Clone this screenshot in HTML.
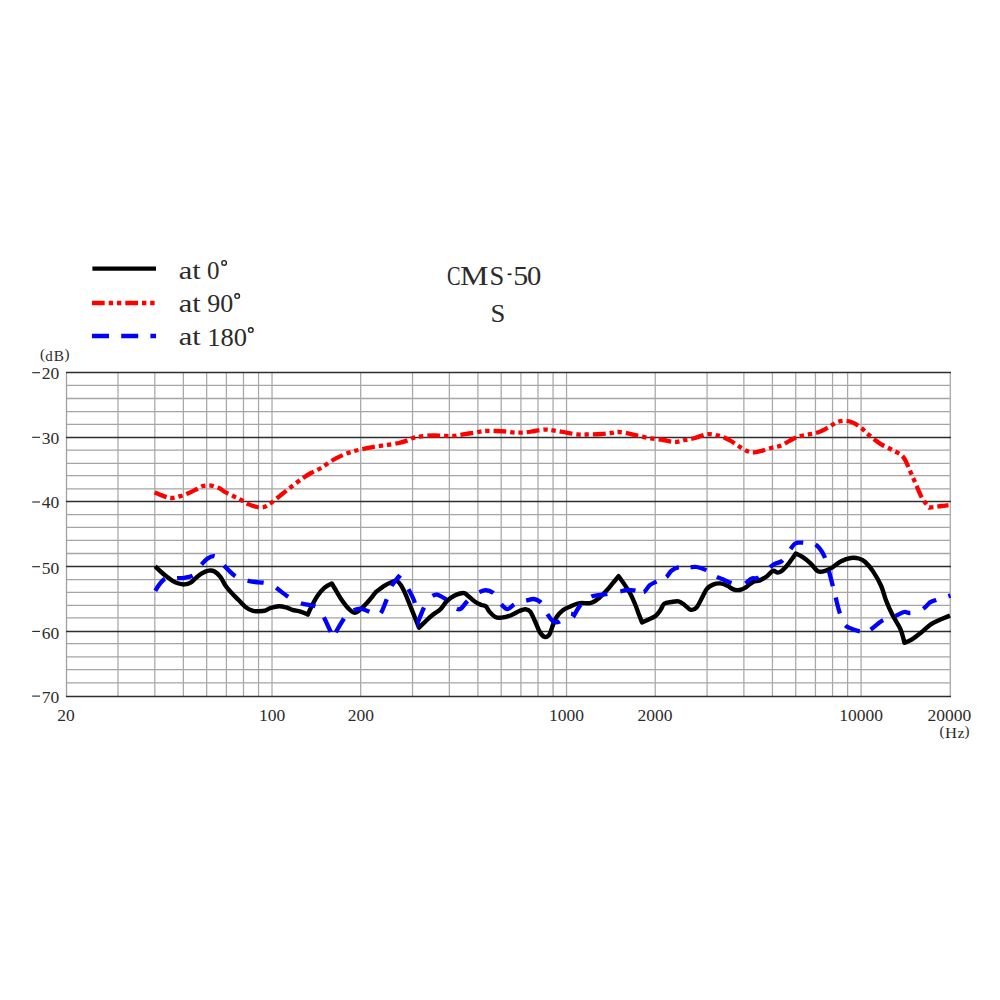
<!DOCTYPE html>
<html><head><meta charset="utf-8"><style>
html,body{margin:0;padding:0;background:#fff;width:1000px;height:1000px;overflow:hidden}
svg{display:block}
text{font-family:"Liberation Serif",serif;fill:#2b2b2b}
</style></head><body>
<svg width="1000" height="1000" viewBox="0 0 1000 1000">
<rect width="1000" height="1000" fill="#fff"/>
<line x1="66.5" y1="385.4" x2="950.2" y2="385.4" stroke="#a5a5a5" stroke-width="1.3"/>
<line x1="66.5" y1="398.5" x2="950.2" y2="398.5" stroke="#a5a5a5" stroke-width="1.3"/>
<line x1="66.5" y1="411.55" x2="950.2" y2="411.55" stroke="#a5a5a5" stroke-width="1.3"/>
<line x1="66.5" y1="424.45" x2="950.2" y2="424.45" stroke="#a5a5a5" stroke-width="1.3"/>
<line x1="66.5" y1="450.1" x2="950.2" y2="450.1" stroke="#a5a5a5" stroke-width="1.3"/>
<line x1="66.5" y1="463.3" x2="950.2" y2="463.3" stroke="#a5a5a5" stroke-width="1.3"/>
<line x1="66.5" y1="475.6" x2="950.2" y2="475.6" stroke="#a5a5a5" stroke-width="1.3"/>
<line x1="66.5" y1="488.85" x2="950.2" y2="488.85" stroke="#a5a5a5" stroke-width="1.3"/>
<line x1="66.5" y1="514.65" x2="950.2" y2="514.65" stroke="#a5a5a5" stroke-width="1.3"/>
<line x1="66.5" y1="527.35" x2="950.2" y2="527.35" stroke="#a5a5a5" stroke-width="1.3"/>
<line x1="66.5" y1="540.45" x2="950.2" y2="540.45" stroke="#a5a5a5" stroke-width="1.3"/>
<line x1="66.5" y1="553.5" x2="950.2" y2="553.5" stroke="#a5a5a5" stroke-width="1.3"/>
<line x1="66.5" y1="579.65" x2="950.2" y2="579.65" stroke="#a5a5a5" stroke-width="1.3"/>
<line x1="66.5" y1="592.35" x2="950.2" y2="592.35" stroke="#a5a5a5" stroke-width="1.3"/>
<line x1="66.5" y1="605.45" x2="950.2" y2="605.45" stroke="#a5a5a5" stroke-width="1.3"/>
<line x1="66.5" y1="617.85" x2="950.2" y2="617.85" stroke="#a5a5a5" stroke-width="1.3"/>
<line x1="66.5" y1="643.7" x2="950.2" y2="643.7" stroke="#a5a5a5" stroke-width="1.3"/>
<line x1="66.5" y1="656.9" x2="950.2" y2="656.9" stroke="#a5a5a5" stroke-width="1.3"/>
<line x1="66.5" y1="669.55" x2="950.2" y2="669.55" stroke="#a5a5a5" stroke-width="1.3"/>
<line x1="66.5" y1="682.8" x2="950.2" y2="682.8" stroke="#a5a5a5" stroke-width="1.3"/>
<line x1="118.01" y1="372.5" x2="118.01" y2="696.5" stroke="#a8a8a8" stroke-width="1.25"/>
<line x1="154.81" y1="372.5" x2="154.81" y2="696.5" stroke="#a8a8a8" stroke-width="1.25"/>
<line x1="183.36" y1="372.5" x2="183.36" y2="696.5" stroke="#a8a8a8" stroke-width="1.25"/>
<line x1="206.68" y1="372.5" x2="206.68" y2="696.5" stroke="#a8a8a8" stroke-width="1.25"/>
<line x1="226.40" y1="372.5" x2="226.40" y2="696.5" stroke="#a8a8a8" stroke-width="1.25"/>
<line x1="243.48" y1="372.5" x2="243.48" y2="696.5" stroke="#a8a8a8" stroke-width="1.25"/>
<line x1="258.54" y1="372.5" x2="258.54" y2="696.5" stroke="#a8a8a8" stroke-width="1.25"/>
<line x1="272.02" y1="372.5" x2="272.02" y2="696.5" stroke="#a8a8a8" stroke-width="1.25"/>
<line x1="360.68" y1="372.5" x2="360.68" y2="696.5" stroke="#a8a8a8" stroke-width="1.25"/>
<line x1="412.55" y1="372.5" x2="412.55" y2="696.5" stroke="#a8a8a8" stroke-width="1.25"/>
<line x1="449.35" y1="372.5" x2="449.35" y2="696.5" stroke="#a8a8a8" stroke-width="1.25"/>
<line x1="477.89" y1="372.5" x2="477.89" y2="696.5" stroke="#a8a8a8" stroke-width="1.25"/>
<line x1="501.21" y1="372.5" x2="501.21" y2="696.5" stroke="#a8a8a8" stroke-width="1.25"/>
<line x1="520.93" y1="372.5" x2="520.93" y2="696.5" stroke="#a8a8a8" stroke-width="1.25"/>
<line x1="538.01" y1="372.5" x2="538.01" y2="696.5" stroke="#a8a8a8" stroke-width="1.25"/>
<line x1="553.08" y1="372.5" x2="553.08" y2="696.5" stroke="#a8a8a8" stroke-width="1.25"/>
<line x1="566.55" y1="372.5" x2="566.55" y2="696.5" stroke="#a8a8a8" stroke-width="1.25"/>
<line x1="655.22" y1="372.5" x2="655.22" y2="696.5" stroke="#a8a8a8" stroke-width="1.25"/>
<line x1="707.08" y1="372.5" x2="707.08" y2="696.5" stroke="#a8a8a8" stroke-width="1.25"/>
<line x1="743.88" y1="372.5" x2="743.88" y2="696.5" stroke="#a8a8a8" stroke-width="1.25"/>
<line x1="772.42" y1="372.5" x2="772.42" y2="696.5" stroke="#a8a8a8" stroke-width="1.25"/>
<line x1="795.74" y1="372.5" x2="795.74" y2="696.5" stroke="#a8a8a8" stroke-width="1.25"/>
<line x1="815.46" y1="372.5" x2="815.46" y2="696.5" stroke="#a8a8a8" stroke-width="1.25"/>
<line x1="832.54" y1="372.5" x2="832.54" y2="696.5" stroke="#a8a8a8" stroke-width="1.25"/>
<line x1="847.61" y1="372.5" x2="847.61" y2="696.5" stroke="#a8a8a8" stroke-width="1.25"/>
<line x1="861.09" y1="372.5" x2="861.09" y2="696.5" stroke="#a8a8a8" stroke-width="1.25"/>
<line x1="950.3" y1="372.5" x2="950.3" y2="696.5" stroke="#b0b0b0" stroke-width="1.5"/>
<line x1="66.5" y1="372.5" x2="66.5" y2="696.5" stroke="#a0a0a0" stroke-width="1.3"/>
<line x1="66" y1="372.5" x2="951" y2="372.5" stroke="#2e2e2e" stroke-width="1.6"/>
<line x1="66" y1="437.5" x2="951" y2="437.5" stroke="#2e2e2e" stroke-width="1.6"/>
<line x1="66" y1="501.5" x2="951" y2="501.5" stroke="#2e2e2e" stroke-width="1.6"/>
<line x1="66" y1="566.5" x2="951" y2="566.5" stroke="#2e2e2e" stroke-width="1.6"/>
<line x1="66" y1="631.5" x2="951" y2="631.5" stroke="#2e2e2e" stroke-width="1.6"/>
<line x1="66" y1="696.5" x2="951" y2="696.5" stroke="#2e2e2e" stroke-width="1.6"/>
<g font-size="17.5">
<text x="59.2" y="379" text-anchor="end">20</text>
<text x="59.2" y="443.8" text-anchor="end">30</text>
<text x="59.2" y="508.4" text-anchor="end">40</text>
<text x="59.2" y="574" text-anchor="end">50</text>
<text x="59.2" y="638.7" text-anchor="end">60</text>
<text x="59.2" y="703.3" text-anchor="end">70</text>
</g>
<g stroke="#222" stroke-width="1.1">
<line x1="32.2" y1="372.7" x2="40" y2="372.7"/>
<line x1="32.2" y1="437.3" x2="40" y2="437.3"/>
<line x1="32.2" y1="502" x2="40" y2="502"/>
<line x1="32.2" y1="566.7" x2="40" y2="566.7"/>
<line x1="32.2" y1="631.4" x2="40" y2="631.4"/>
<line x1="32.2" y1="696.1" x2="40" y2="696.1"/>
</g>
<g font-size="15">
<text x="40" y="359">(</text>
<text x="45.3" y="360.7">d</text>
<text x="53.8" y="360.7" textLength="10.2" lengthAdjust="spacingAndGlyphs">B</text>
<text x="64.6" y="359">)</text>
</g>
<g font-size="17.5" text-anchor="middle">
<text x="66" y="721">20</text>
<text x="272.2" y="721">100</text>
<text x="360.8" y="721">200</text>
<text x="566.5" y="721">1000</text>
<text x="655.1" y="721">2000</text>
<text x="861.1" y="721">10000</text>
<text x="949.3" y="721">20000</text>
</g>
<g font-size="15">
<text x="939.6" y="736">(</text>
<text x="945" y="737.8" textLength="12" lengthAdjust="spacingAndGlyphs">H</text>
<text x="957.6" y="737.8" textLength="7" lengthAdjust="spacingAndGlyphs">z</text>
<text x="964.6" y="736">)</text>
</g>
<g font-size="26.5">
<text x="447" y="284.7" textLength="13.6" lengthAdjust="spacingAndGlyphs">C</text>
<text x="460" y="284.7" textLength="28.5" lengthAdjust="spacingAndGlyphs">M</text>
<text x="489.5" y="284.7">S</text>
<rect x="507.7" y="273.5" width="3.8" height="1.6" fill="#111"/>
<text x="513.2" y="284.7" textLength="15" lengthAdjust="spacingAndGlyphs">5</text>
<text x="527" y="284.7" textLength="14.3" lengthAdjust="spacingAndGlyphs">0</text>
</g>
<text x="490.6" y="321.6" font-size="25" textLength="14.8" lengthAdjust="spacingAndGlyphs">S</text>
<line x1="92.4" y1="268.6" x2="156" y2="268.6" stroke="#000" stroke-width="4.4"/>
<line x1="92" y1="303" x2="156" y2="303" stroke="#f00" stroke-width="4.3" stroke-dasharray="12.7 4 4.4 3.8 4.4 4"/>
<line x1="92" y1="336" x2="156" y2="336" stroke="#00f" stroke-width="4.3" stroke-dasharray="17 12.2"/>
<g font-size="25">
<text x="178.7" y="278.7" textLength="22" lengthAdjust="spacingAndGlyphs">at</text>
<text x="207.1" y="278.7">0</text>
<text x="178.7" y="311.6" textLength="22" lengthAdjust="spacingAndGlyphs">at</text>
<text x="207.3" y="311.8" font-size="24.5" textLength="26" lengthAdjust="spacingAndGlyphs">90</text>
<text x="178.7" y="345.4" textLength="22" lengthAdjust="spacingAndGlyphs">at</text>
<text x="207.2" y="345.8" font-size="24.5" textLength="39.8" lengthAdjust="spacingAndGlyphs">180</text>
</g>
<g fill="none" stroke="#222" stroke-width="1.4">
<circle cx="224.1" cy="262.9" r="2.3"/>
<circle cx="237.2" cy="296.1" r="2.3"/>
<circle cx="250.8" cy="330.1" r="2.3"/>
</g>
<path d="M155.20,566.40 C156.10,567.25 158.70,569.80 160.60,571.50 C162.50,573.20 164.60,575.05 166.60,576.60 C168.60,578.15 170.60,579.65 172.60,580.80 C174.60,581.95 176.60,582.90 178.60,583.50 C180.60,584.10 182.60,584.55 184.60,584.40 C186.60,584.25 188.80,583.60 190.60,582.60 C192.40,581.60 193.60,579.90 195.40,578.40 C197.20,576.90 199.20,574.90 201.40,573.60 C203.60,572.30 206.40,570.95 208.60,570.60 C210.80,570.25 212.60,570.40 214.60,571.50 C216.60,572.60 218.80,574.85 220.60,577.20 C222.40,579.55 223.60,583.00 225.40,585.60 C227.20,588.20 229.20,590.40 231.40,592.80 C233.60,595.20 236.20,597.60 238.60,600.00 C241.00,602.40 243.40,605.40 245.80,607.20 C248.20,609.00 250.80,610.13 253.00,610.80 C255.20,611.47 257.00,611.23 259.00,611.20 C261.00,611.17 263.07,611.13 265.00,610.60 C266.93,610.07 268.27,608.73 270.60,608.00 C272.93,607.27 276.40,606.30 279.00,606.20 C281.60,606.10 284.00,606.80 286.20,607.40 C288.40,608.00 289.80,609.10 292.20,609.80 C294.60,610.50 298.00,610.80 300.60,611.60 C303.20,612.40 307.80,614.60 307.80,614.60 C307.80,614.60 309.80,609.90 311.40,606.80 C313.00,603.70 315.20,599.20 317.40,596.00 C319.60,592.80 322.20,589.70 324.60,587.60 C327.00,585.50 331.80,583.40 331.80,583.40 C331.80,583.40 333.80,586.83 335.40,589.50 C337.00,592.17 339.20,596.22 341.40,599.40 C343.60,602.58 346.40,606.37 348.60,608.60 C350.80,610.83 352.60,612.70 354.60,612.80 C356.60,612.90 358.40,611.00 360.60,609.20 C362.80,607.40 365.40,604.67 367.80,602.00 C370.20,599.33 373.47,595.00 375.00,593.20 C376.53,591.40 375.47,592.43 377.00,591.20 C378.53,589.97 381.80,587.30 384.20,585.80 C386.60,584.30 389.30,583.00 391.40,582.20 C393.50,581.40 395.20,580.50 396.80,581.00 C398.40,581.50 399.50,582.90 401.00,585.20 C402.50,587.50 404.20,591.20 405.80,594.80 C407.40,598.40 409.00,602.80 410.60,606.80 C412.20,610.80 414.00,615.33 415.40,618.80 C416.80,622.27 419.00,627.60 419.00,627.60 C419.00,627.60 422.80,623.87 425.00,621.80 C427.20,619.73 429.60,617.30 432.20,615.20 C434.80,613.10 438.20,611.50 440.60,609.20 C443.00,606.90 444.40,603.60 446.60,601.40 C448.80,599.20 451.00,597.40 453.80,596.00 C456.60,594.60 461.00,593.00 463.40,593.00 C465.80,593.00 466.20,594.50 468.20,596.00 C470.20,597.50 473.20,600.50 475.40,602.00 C477.60,603.50 479.67,604.30 481.40,605.00 C483.13,605.70 484.47,605.10 485.80,606.20 C487.13,607.30 487.80,609.80 489.40,611.60 C491.00,613.40 493.40,616.00 495.40,617.00 C497.40,618.00 498.80,617.90 501.40,617.60 C504.00,617.30 508.00,616.30 511.00,615.20 C514.00,614.10 517.00,612.00 519.40,611.00 C521.80,610.00 523.60,609.10 525.40,609.20 C527.20,609.30 528.60,609.60 530.20,611.60 C531.80,613.60 533.40,617.80 535.00,621.20 C536.60,624.60 538.20,629.40 539.80,632.00 C541.40,634.60 543.00,636.40 544.60,636.80 C546.20,637.20 548.00,636.40 549.40,634.40 C550.80,632.40 551.80,627.70 553.00,624.80 C554.20,621.90 555.00,619.40 556.60,617.00 C558.20,614.60 560.20,612.20 562.60,610.40 C565.00,608.60 568.20,607.40 571.00,606.20 C573.80,605.00 576.60,603.70 579.40,603.20 C582.20,602.70 585.67,603.30 587.80,603.20 C589.93,603.10 590.27,603.50 592.20,602.60 C594.13,601.70 597.00,599.80 599.40,597.80 C601.80,595.80 604.40,593.00 606.60,590.60 C608.80,588.20 610.60,585.80 612.60,583.40 C614.60,581.00 618.60,576.20 618.60,576.20 C618.60,576.20 622.60,581.60 624.60,584.60 C626.60,587.60 628.80,590.80 630.60,594.20 C632.40,597.60 634.00,601.60 635.40,605.00 C636.80,608.40 637.90,611.70 639.00,614.60 C640.10,617.50 642.00,622.40 642.00,622.40 C642.00,622.40 646.30,620.50 648.60,619.40 C650.90,618.30 653.80,617.40 655.80,615.80 C657.80,614.20 659.20,611.80 660.60,609.80 C662.00,607.80 662.40,605.10 664.20,603.80 C666.00,602.50 669.00,602.40 671.40,602.00 C673.80,601.60 676.40,600.90 678.60,601.40 C680.80,601.90 682.60,603.60 684.60,605.00 C686.60,606.40 688.60,609.40 690.60,609.80 C692.60,610.20 694.60,609.60 696.60,607.40 C698.60,605.20 700.87,599.70 702.60,596.60 C704.33,593.50 705.27,590.80 707.00,588.80 C708.73,586.80 710.80,585.50 713.00,584.60 C715.20,583.70 717.80,583.20 720.20,583.40 C722.60,583.60 725.20,584.80 727.40,585.80 C729.60,586.80 731.40,588.70 733.40,589.40 C735.40,590.10 737.40,590.30 739.40,590.00 C741.40,589.70 743.20,588.90 745.40,587.60 C747.60,586.30 750.20,583.40 752.60,582.20 C755.00,581.00 757.40,581.40 759.80,580.40 C762.20,579.40 764.80,577.80 767.00,576.20 C769.20,574.60 771.20,571.40 773.00,570.80 C774.80,570.20 776.20,572.70 777.80,572.60 C779.40,572.50 780.80,571.70 782.60,570.20 C784.40,568.70 786.40,566.37 788.60,563.60 C790.80,560.83 795.80,553.60 795.80,553.60 C795.80,553.60 800.30,555.53 802.80,557.20 C805.30,558.87 808.27,561.25 810.80,563.60 C813.33,565.95 815.60,570.10 818.00,571.30 C820.40,572.50 822.67,571.55 825.20,570.80 C827.73,570.05 830.53,568.40 833.20,566.80 C835.87,565.20 838.27,562.67 841.20,561.20 C844.13,559.73 847.87,558.45 850.80,558.00 C853.73,557.55 856.40,557.83 858.80,558.50 C861.20,559.17 862.80,559.82 865.20,562.00 C867.60,564.18 870.53,567.60 873.20,571.60 C875.87,575.60 879.07,581.20 881.20,586.00 C883.33,590.80 884.13,595.60 886.00,600.40 C887.87,605.20 890.00,610.00 892.40,614.80 C894.80,619.60 898.40,624.53 900.40,629.20 C902.40,633.87 904.40,642.80 904.40,642.80 C904.40,642.80 908.80,641.33 911.60,639.60 C914.40,637.87 918.00,634.93 921.20,632.40 C924.40,629.87 927.60,626.53 930.80,624.40 C934.00,622.27 937.20,621.07 940.40,619.60 C943.60,618.13 948.40,616.27 950.00,615.60" fill="none" stroke="#000" stroke-width="4.4" stroke-linejoin="round"/>
<path d="M154.60,492.40 C156.33,493.10 162.10,495.67 165.00,496.60 C167.90,497.53 169.33,498.10 172.00,498.00 C174.67,497.90 178.17,496.83 181.00,496.00 C183.83,495.17 186.33,494.17 189.00,493.00 C191.67,491.83 194.67,490.17 197.00,489.00 C199.33,487.83 200.67,486.57 203.00,486.00 C205.33,485.43 208.33,485.27 211.00,485.60 C213.67,485.93 216.67,486.93 219.00,488.00 C221.33,489.07 222.67,490.67 225.00,492.00 C227.33,493.33 230.33,494.67 233.00,496.00 C235.67,497.33 238.33,498.60 241.00,500.00 C243.67,501.40 246.33,503.23 249.00,504.40 C251.67,505.57 254.50,506.57 257.00,507.00 C259.50,507.43 261.67,507.67 264.00,507.00 C266.33,506.33 268.17,505.00 271.00,503.00 C273.83,501.00 277.67,497.67 281.00,495.00 C284.33,492.33 287.33,489.83 291.00,487.00 C294.67,484.17 299.67,480.33 303.00,478.00 C306.33,475.67 308.00,474.67 311.00,473.00 C314.00,471.33 317.33,470.17 321.00,468.00 C324.67,465.83 329.33,462.17 333.00,460.00 C336.67,457.83 339.67,456.43 343.00,455.00 C346.33,453.57 349.67,452.40 353.00,451.40 C356.33,450.40 359.33,449.80 363.00,449.00 C366.67,448.20 371.00,447.27 375.00,446.60 C379.00,445.93 383.00,445.60 387.00,445.00 C391.00,444.40 395.67,443.73 399.00,443.00 C402.33,442.27 404.67,441.43 407.00,440.60 C409.33,439.77 410.67,438.70 413.00,438.00 C415.33,437.30 417.67,436.83 421.00,436.40 C424.33,435.97 429.33,435.50 433.00,435.40 C436.67,435.30 439.67,435.70 443.00,435.80 C446.33,435.90 449.67,436.23 453.00,436.00 C456.33,435.77 459.33,434.97 463.00,434.40 C466.67,433.83 471.33,433.17 475.00,432.60 C478.67,432.03 481.67,431.27 485.00,431.00 C488.33,430.73 491.67,430.93 495.00,431.00 C498.33,431.07 501.67,431.13 505.00,431.40 C508.33,431.67 511.67,432.43 515.00,432.60 C518.33,432.77 521.67,432.67 525.00,432.40 C528.33,432.13 531.67,431.47 535.00,431.00 C538.33,430.53 542.00,429.70 545.00,429.60 C548.00,429.50 550.00,430.00 553.00,430.40 C556.00,430.80 559.00,431.33 563.00,432.00 C567.00,432.67 572.67,434.00 577.00,434.40 C581.33,434.80 585.00,434.47 589.00,434.40 C593.00,434.33 597.33,434.23 601.00,434.00 C604.67,433.77 608.00,433.33 611.00,433.00 C614.00,432.67 616.00,431.90 619.00,432.00 C622.00,432.10 625.67,432.93 629.00,433.60 C632.33,434.27 635.33,435.20 639.00,436.00 C642.67,436.80 647.00,437.73 651.00,438.40 C655.00,439.07 659.00,439.40 663.00,440.00 C667.00,440.60 671.33,442.00 675.00,442.00 C678.67,442.00 681.67,440.67 685.00,440.00 C688.33,439.33 691.33,438.97 695.00,438.00 C698.67,437.03 703.33,434.63 707.00,434.20 C710.67,433.77 714.33,434.93 717.00,435.40 C719.67,435.87 720.67,436.07 723.00,437.00 C725.33,437.93 728.33,439.43 731.00,441.00 C733.67,442.57 736.33,444.73 739.00,446.40 C741.67,448.07 744.67,450.00 747.00,451.00 C749.33,452.00 750.67,452.40 753.00,452.40 C755.33,452.40 758.00,451.73 761.00,451.00 C764.00,450.27 767.67,448.90 771.00,448.00 C774.33,447.10 777.67,446.93 781.00,445.60 C784.33,444.27 788.00,441.53 791.00,440.00 C794.00,438.47 796.00,437.33 799.00,436.40 C802.00,435.47 805.67,435.13 809.00,434.40 C812.33,433.67 815.67,433.23 819.00,432.00 C822.33,430.77 826.00,428.63 829.00,427.00 C832.00,425.37 834.33,423.23 837.00,422.20 C839.67,421.17 842.33,420.73 845.00,420.80 C847.67,420.87 850.33,421.45 853.00,422.60 C855.67,423.75 858.57,425.83 861.00,427.70 C863.43,429.57 865.40,431.87 867.60,433.80 C869.80,435.73 872.00,437.57 874.20,439.30 C876.40,441.03 878.60,442.83 880.80,444.20 C883.00,445.57 885.02,446.30 887.40,447.50 C889.78,448.70 892.72,450.12 895.10,451.40 C897.48,452.68 899.95,453.65 901.70,455.20 C903.45,456.75 904.32,458.32 905.60,460.70 C906.88,463.08 908.12,466.57 909.40,469.50 C910.68,472.43 912.02,475.37 913.30,478.30 C914.58,481.23 915.73,483.98 917.10,487.10 C918.47,490.22 920.03,494.25 921.50,497.00 C922.97,499.75 924.62,501.85 925.90,503.60 C927.18,505.35 929.20,507.50 929.20,507.50 C929.20,507.50 933.78,507.15 935.80,506.90 C937.82,506.65 939.18,506.28 941.30,506.00 C943.42,505.72 947.30,505.33 948.50,505.20" fill="none" stroke="#f00" stroke-width="4.3" stroke-dasharray="12.7 4 4.4 3.8 4.4 4"/>
<path d="M155.20,591.00 C155.90,589.90 157.80,586.40 159.40,584.40 C161.00,582.40 162.87,579.98 164.80,579.00 C166.73,578.02 168.90,578.63 171.00,578.50 C173.10,578.37 175.13,578.32 177.40,578.20 C179.67,578.08 182.00,578.27 184.60,577.80 C187.20,577.33 190.93,576.70 193.00,575.40 C195.07,574.10 195.60,571.80 197.00,570.00 C198.40,568.20 199.67,566.50 201.40,564.60 C203.13,562.70 205.30,560.00 207.40,558.60 C209.50,557.20 212.07,555.97 214.00,556.20 C215.93,556.43 217.30,558.40 219.00,560.00 C220.70,561.60 222.53,564.03 224.20,565.80 C225.87,567.57 227.20,568.90 229.00,570.60 C230.80,572.30 233.00,574.60 235.00,576.00 C237.00,577.40 238.80,578.20 241.00,579.00 C243.20,579.80 245.80,580.30 248.20,580.80 C250.60,581.30 252.87,581.70 255.40,582.00 C257.93,582.30 260.97,582.27 263.40,582.60 C265.83,582.93 267.90,583.17 270.00,584.00 C272.10,584.83 273.00,585.50 276.00,587.60 C279.00,589.70 283.90,594.00 288.00,596.60 C292.10,599.20 296.10,601.60 300.60,603.20 C305.10,604.80 311.93,605.07 315.00,606.20 C318.07,607.33 317.50,608.13 319.00,610.00 C320.50,611.87 321.67,612.90 324.00,617.40 C326.33,621.90 333.00,637.00 333.00,637.00 C333.00,637.00 341.30,622.63 343.80,618.80 C346.30,614.97 346.40,615.40 348.00,614.00 C349.60,612.60 351.30,611.30 353.40,610.40 C355.50,609.50 358.00,608.40 360.60,608.60 C363.20,608.80 366.60,610.70 369.00,611.60 C371.40,612.50 373.07,613.70 375.00,614.00 C376.93,614.30 378.67,615.80 380.60,613.40 C382.53,611.00 384.80,604.10 386.60,599.60 C388.40,595.10 389.40,590.20 391.40,586.40 C393.40,582.60 398.60,576.80 398.60,576.80 C398.60,576.80 401.40,579.00 403.00,581.00 C404.60,583.00 406.23,585.20 408.20,588.80 C410.17,592.40 413.10,597.23 414.80,602.60 C416.50,607.97 418.40,621.00 418.40,621.00 C418.40,621.00 422.20,611.33 423.80,608.00 C425.40,604.67 426.70,602.92 428.00,601.00 C429.30,599.08 430.18,597.57 431.60,596.50 C433.02,595.43 434.93,594.63 436.50,594.60 C438.07,594.57 439.42,595.53 441.00,596.30 C442.58,597.07 444.33,597.92 446.00,599.20 C447.67,600.48 449.30,602.43 451.00,604.00 C452.70,605.57 454.53,607.83 456.20,608.60 C457.87,609.37 459.20,609.80 461.00,608.60 C462.80,607.40 465.00,603.50 467.00,601.40 C469.00,599.30 471.00,597.52 473.00,596.00 C475.00,594.48 476.87,593.28 479.00,592.30 C481.13,591.32 483.47,590.02 485.80,590.10 C488.13,590.18 491.13,591.48 493.00,592.80 C494.87,594.12 495.70,596.17 497.00,598.00 C498.30,599.83 499.07,601.93 500.80,603.80 C502.53,605.67 505.30,609.00 507.40,609.20 C509.50,609.40 511.47,606.20 513.40,605.00 C515.33,603.80 517.00,602.70 519.00,602.00 C521.00,601.30 522.93,601.30 525.40,600.80 C527.87,600.30 531.30,598.80 533.80,599.00 C536.30,599.20 538.70,600.67 540.40,602.00 C542.10,603.33 542.90,605.10 544.00,607.00 C545.10,608.90 545.50,611.03 547.00,613.40 C548.50,615.77 551.00,619.80 553.00,621.20 C555.00,622.60 557.00,622.58 559.00,621.80 C561.00,621.02 563.08,617.87 565.00,616.50 C566.92,615.13 568.97,613.82 570.50,613.60 C572.03,613.38 574.20,615.20 574.20,615.20 C574.20,615.20 578.03,608.13 580.00,605.60 C581.97,603.07 584.10,601.50 586.00,600.00 C587.90,598.50 589.57,597.37 591.40,596.60 C593.23,595.83 594.57,595.80 597.00,595.40 C599.43,595.00 603.50,594.60 606.00,594.20 C608.50,593.80 609.80,593.40 612.00,593.00 C614.20,592.60 616.70,592.30 619.20,591.80 C621.70,591.30 624.50,590.23 627.00,590.00 C629.50,589.77 632.03,590.15 634.20,590.40 C636.37,590.65 638.30,591.27 640.00,591.50 C641.70,591.73 642.77,592.85 644.40,591.80 C646.03,590.75 647.80,586.90 649.80,585.20 C651.80,583.50 654.53,582.55 656.40,581.60 C658.27,580.65 659.30,580.30 661.00,579.50 C662.70,578.70 664.87,578.25 666.60,576.80 C668.33,575.35 669.40,572.40 671.40,570.80 C673.40,569.20 676.50,567.77 678.60,567.20 C680.70,566.63 682.00,567.40 684.00,567.40 C686.00,567.40 688.50,567.27 690.60,567.20 C692.70,567.13 694.20,566.60 696.60,567.00 C699.00,567.40 702.60,568.52 705.00,569.60 C707.40,570.68 709.07,572.30 711.00,573.50 C712.93,574.70 714.47,575.75 716.60,576.80 C718.73,577.85 721.40,578.80 723.80,579.80 C726.20,580.80 728.63,582.02 731.00,582.80 C733.37,583.58 735.80,584.30 738.00,584.50 C740.20,584.70 741.97,584.98 744.20,584.00 C746.43,583.02 749.20,579.60 751.40,578.60 C753.60,577.60 755.47,578.93 757.40,578.00 C759.33,577.07 761.10,574.60 763.00,573.00 C764.90,571.40 766.93,569.87 768.80,568.40 C770.67,566.93 772.10,565.37 774.20,564.20 C776.30,563.03 779.52,562.68 781.40,561.40 C783.28,560.12 784.13,558.33 785.50,556.50 C786.87,554.67 788.02,552.55 789.60,550.40 C791.18,548.25 793.27,544.90 795.00,543.60 C796.73,542.30 798.00,542.70 800.00,542.60 C802.00,542.50 804.67,542.83 807.00,543.00 C809.33,543.17 811.90,542.70 814.00,543.60 C816.10,544.50 817.87,546.27 819.60,548.40 C821.33,550.53 822.93,552.93 824.40,556.40 C825.87,559.87 827.07,564.53 828.40,569.20 C829.73,573.87 831.20,579.73 832.40,584.40 C833.60,589.07 834.40,592.53 835.60,597.20 C836.80,601.87 838.13,607.87 839.60,612.40 C841.07,616.93 842.53,621.73 844.40,624.40 C846.27,627.07 848.40,627.28 850.80,628.40 C853.20,629.52 856.60,630.67 858.80,631.10 C861.00,631.53 862.13,631.18 864.00,631.00 C865.87,630.82 867.13,631.63 870.00,630.00 C872.87,628.37 878.20,623.12 881.20,621.20 C884.20,619.28 885.67,619.37 888.00,618.50 C890.33,617.63 892.53,617.08 895.20,616.00 C897.87,614.92 901.67,612.50 904.00,612.00 C906.33,611.50 907.37,612.97 909.20,613.00 C911.03,613.03 912.80,612.77 915.00,612.20 C917.20,611.63 919.93,611.23 922.40,609.60 C924.87,607.97 929.80,602.40 929.80,602.40 C929.80,602.40 932.37,601.33 934.40,600.60 C936.43,599.87 939.32,598.83 942.00,598.00 C944.68,597.17 949.08,596.00 950.50,595.60" fill="none" stroke="#00f" stroke-width="4.3" stroke-dasharray="0.00 0.34 15.34 12.19 15.77 14.32 16.09 13.20 15.61 13.05 16.25 13.78 15.01 14.26 14.73 14.28 15.81 11.62 15.67 12.94 16.45 12.62 15.08 14.06 14.12 13.39 15.33 16.62 16.22 14.50 15.13 14.22 14.48 14.79 15.17 13.73 16.16 12.89 15.98 13.29 16.20 13.83 15.83 13.44 16.02 13.42 15.24 8.54 16.90 10.82 16.22 11.82 16.31 12.47 15.86 14.47 15.14 14.94 14.60 13.78 15.54 12.48 16.81 13.42 15.72 11.78 16.41 13.19 15.56 11.40 15.38 13.12 16.13 13.67 16.16 12.44 4.42 10000.00"/>
</svg>
</body></html>
